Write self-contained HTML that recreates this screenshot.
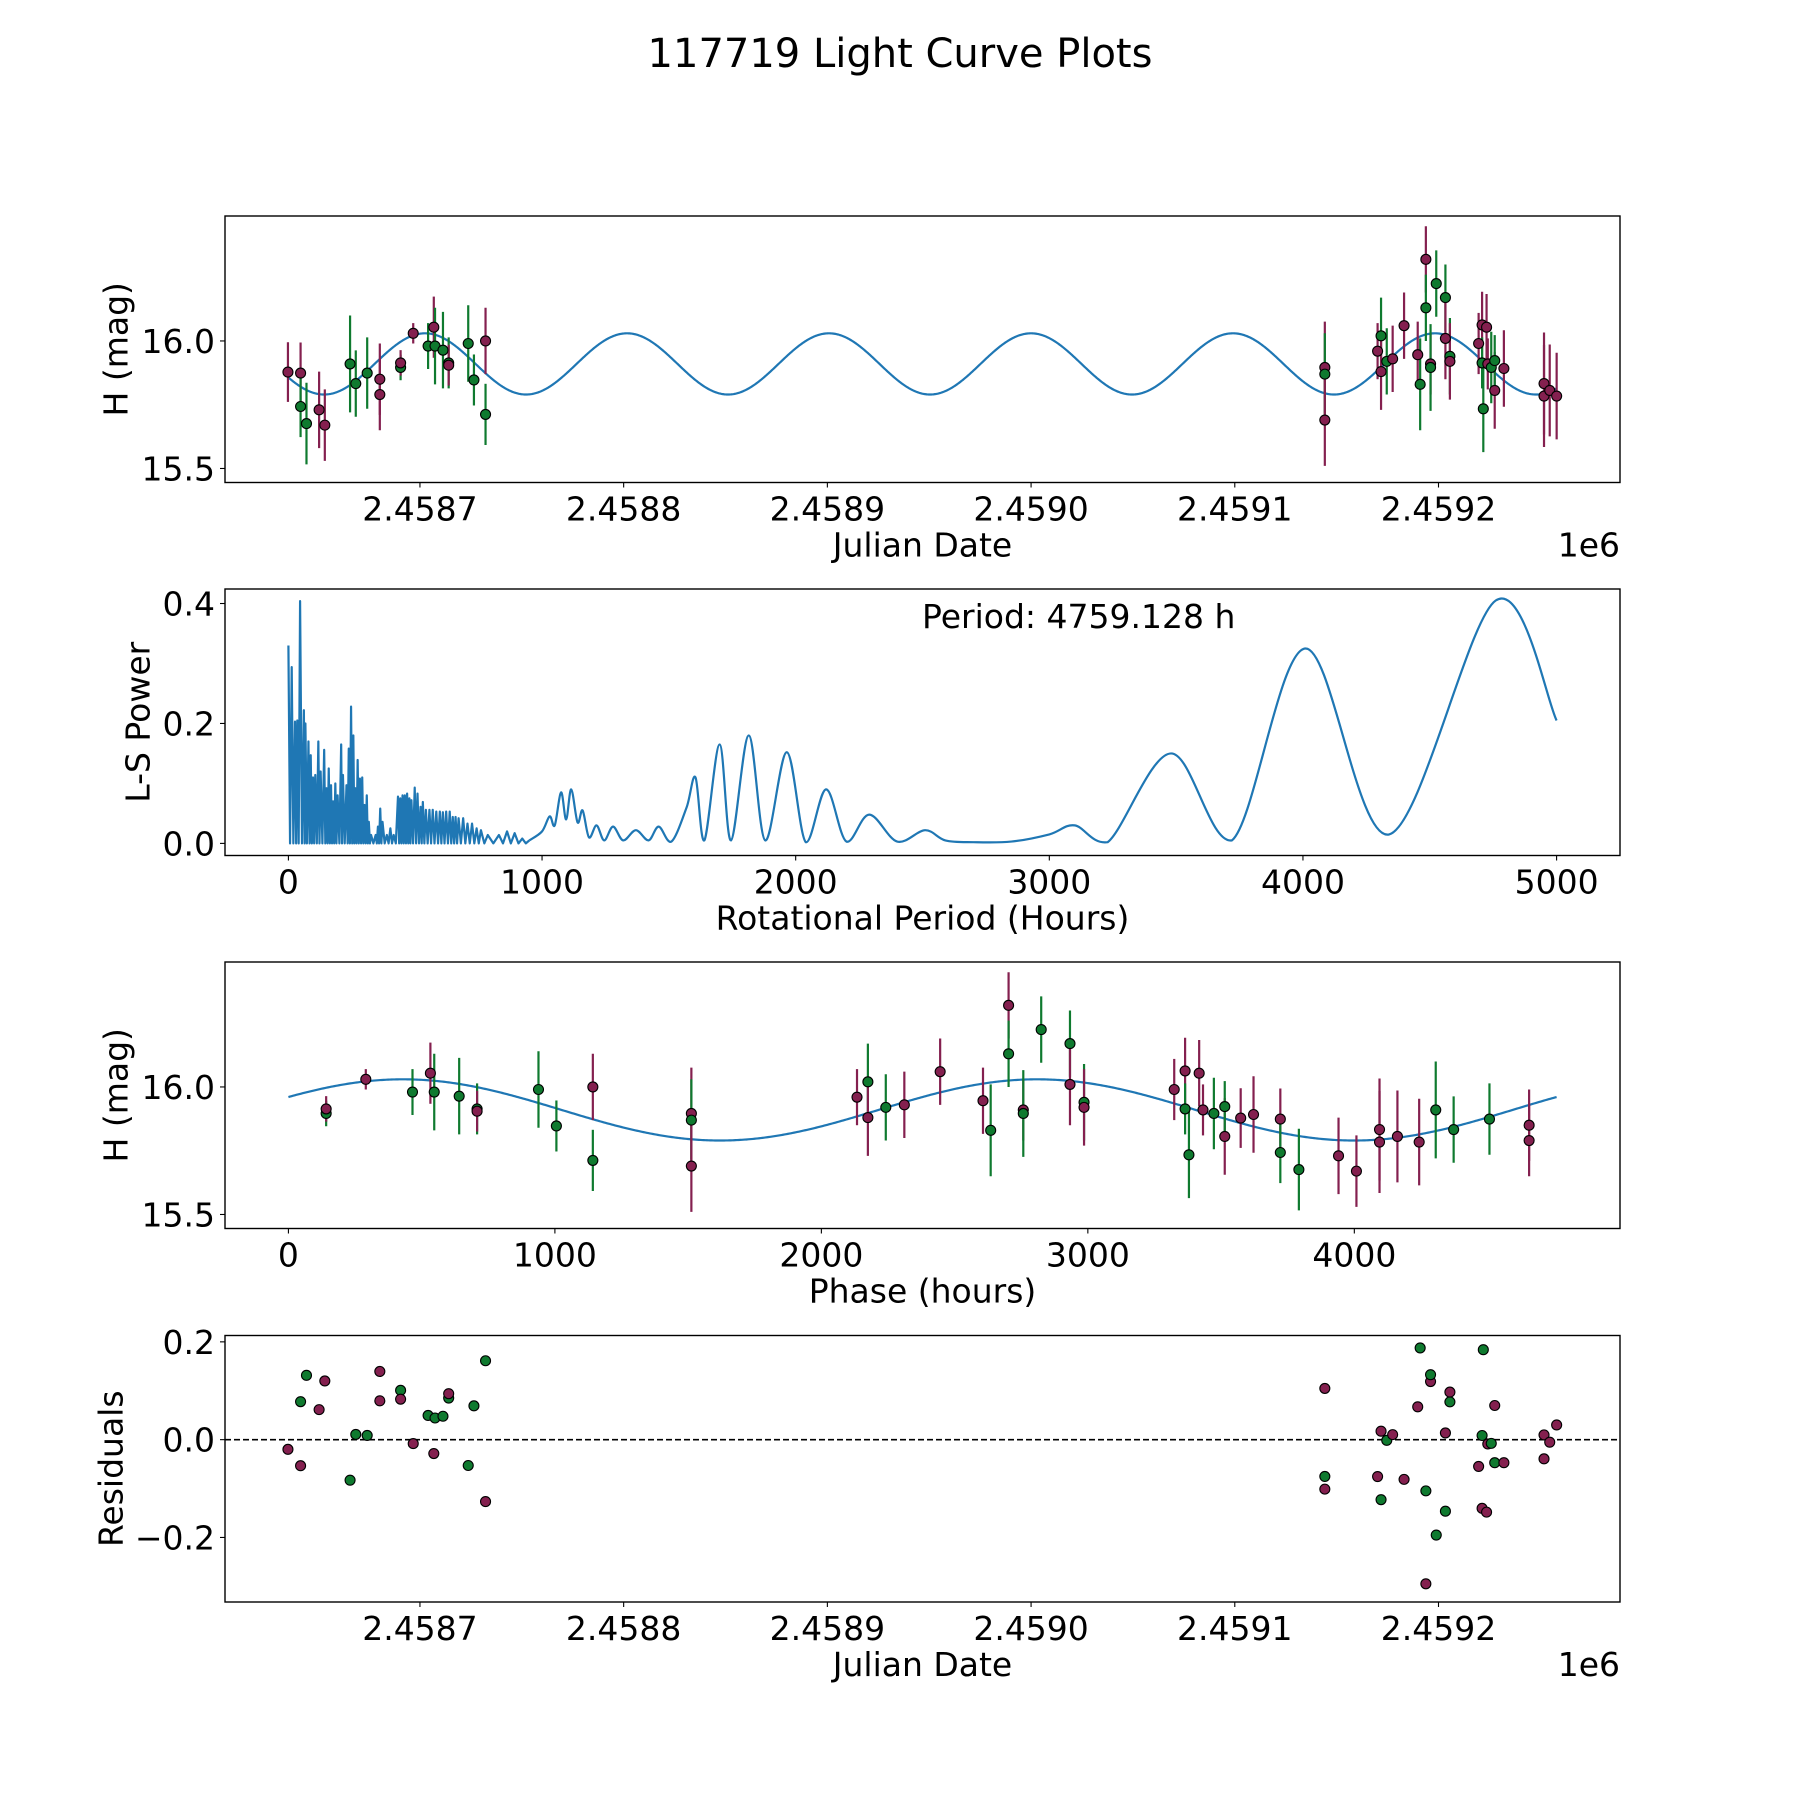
<!DOCTYPE html>
<html><head><meta charset="utf-8"><title>117719 Light Curve Plots</title>
<style>
html,body{margin:0;padding:0;background:#fff;}
svg{display:block;font-family:"DejaVu Sans","Liberation Sans",sans-serif;}
</style></head>
<body>
<svg id="fig" width="1800" height="1800" viewBox="0 0 1800 1800" xmlns="http://www.w3.org/2000/svg">
<rect width="1800" height="1800" fill="#fff"/>
<text x="900" y="67" font-size="40" text-anchor="middle">117719 Light Curve Plots</text>
</svg>
<script>
// ---- data ----
const obsT = [-64.8,-58.6,-58.6,-55.7,-49.5,-46.7,-34.3,-31.5,-25.9,-19.7,-19.7,-9.5,-9.5,-3.3,4.0,6.8,7.4,11.3,14.1,14.1,23.7,26.5,32.2,32.2,
444.2,444.2,444.2,470.1,471.8,471.8,474.6,477.5,483.1,489.8,491.0,493.8,493.8,496.1,496.1,498.9,503.4,503.4,505.6,505.6,519.7,521.4,522.0,521.4,523.6,524.2,525.9,527.6,527.6,532.1,551.8,551.8,554.6,558.0];
const obsMag = [15.878,15.874,15.743,15.676,15.73,15.67,15.91,15.833,15.874,15.85,15.79,15.896,15.914,16.03,15.98,16.054,15.98,15.964,15.914,15.905,15.99,15.847,16.0,15.712,
15.896,15.87,15.69,15.96,16.02,15.88,15.92,15.93,16.06,15.946,15.83,16.32,16.13,15.91,15.896,16.225,16.17,16.01,15.94,15.92,15.99,16.063,15.734,15.914,16.054,15.91,15.896,15.806,15.923,15.892,15.833,15.784,15.806,15.784];
const obsErr = [0.117,0.12,0.12,0.16,0.15,0.14,0.19,0.13,0.14,0.14,0.14,0.05,0.05,0.04,0.09,0.12,0.15,0.15,0.1,0.08,0.15,0.1,0.13,0.12,
0.18,0.16,0.18,0.11,0.15,0.15,0.13,0.13,0.13,0.13,0.18,0.13,0.13,0.12,0.17,0.13,0.13,0.16,0.15,0.15,0.12,0.13,0.17,0.1,0.13,0.1,0.14,0.15,0.1,0.15,0.2,0.2,0.18,0.17];
const obsBand = ['m','m','g','g','m','m','g','g','g','m','m','g','m','m','g','m','g','g','g','m','g','g','m','g',
'm','g','m','m','g','m','g','m','m','m','g','m','g','m','g','g','g','m','g','m','m','m','g','g','m','m','g','m','g','m','m','m','m','m'];
// periodogram: short-period spike peaks
const spikePeriod = [0,13,26,35,46,61,67,79,88,97,106,118,127,141,150,159,168,176,185,194,208,215,229,238,247,256,264,273,282,291,300,309,317,326,344,353,362,371,388,402,415,432,441,450,459,468,477,485,498,509,521,530,542,556,569,583,597,609,622,636,648,659,671,689,706,724,742,759,786,830,862,892,922];
const spikePower = [0.33,0.294,0.203,0.205,0.404,0.222,0.2,0.17,0.147,0.11,0.114,0.17,0.12,0.156,0.092,0.125,0.097,0.07,0.1,0.08,0.165,0.114,0.097,0.158,0.228,0.18,0.092,0.139,0.108,0.11,0.064,0.08,0.036,0.014,0.014,0.028,0.058,0.036,0.014,0.025,0.014,0.078,0.075,0.08,0.08,0.083,0.075,0.072,0.093,0.083,0.061,0.069,0.056,0.056,0.056,0.053,0.053,0.052,0.053,0.053,0.044,0.044,0.042,0.042,0.033,0.033,0.025,0.022,0.014,0.014,0.02,0.017,0.008];
// periodogram: long-period smooth peaks and troughs
const lsPeriod = [950,1000,1030,1050,1075,1095,1115,1140,1160,1185,1215,1245,1280,1320,1370,1420,1460,1510,1570,1605,1640,1700,1745,1815,1880,1965,2040,2120,2200,2290,2400,2510,2590,2700,2850,3000,3100,3230,3480,3720,4010,4340,4760,5000];
const lsPower = [0.005,0.02,0.045,0.03,0.085,0.04,0.09,0.035,0.055,0.01,0.03,0.005,0.028,0.005,0.022,0.005,0.028,0.003,0.06,0.11,0.005,0.165,0.005,0.18,0.005,0.152,0.002,0.09,0.003,0.048,0.003,0.022,0.005,0.002,0.003,0.015,0.03,0.002,0.15,0.005,0.325,0.015,0.405,0.205];
const timeTicks = [0,100,200,300,400,500];
const timeTickLabels = ['2.4587','2.4588','2.4589','2.4590','2.4591','2.4592'];
const magTicks = [15.5,16.0];
const magTickLabels = ['15.5','16.0'];
const lsXTicks = [0,1000,2000,3000,4000,5000];
const lsYTicks = [0.0,0.2,0.4];
const lsYTickLabels = ['0.0','0.2','0.4'];
const phaseTicks = [0,1000,2000,3000,4000];
const resTicks = [-0.2,0.0,0.2];
const resTickLabels = ['\u22120.2','0.0','0.2'];
const periodHours = 4759.128;
const fitMean = 15.91, fitAmp = 0.12, fitPeakPhase = 430, phaseOffsetDays = 15.4;

// ---- layout ----
const NS = 'http://www.w3.org/2000/svg';
const svg = document.getElementById('fig');
const L = 225, R = 1620, H = 266.5, FS = 33;
const tops = [216, 589, 962, 1335.5];
const COL = {m:'#84204f', g:'#0f7a2f'};
const BLUE = '#1f77b4';
function el(tag, attrs, parent){const e=document.createElementNS(NS,tag);for(const k in attrs)e.setAttribute(k,attrs[k]);(parent||svg).appendChild(e);return e;}
function lin(d0,d1,r0,r1){return v=>r0+(v-d0)*(r1-r0)/(d1-d0);}
function phaseOf(t){const P=periodHours/24;let d=((t+phaseOffsetDays)%P+P)%P;return d*24;}
function model(ph){return fitMean+fitAmp*Math.cos(2*Math.PI*(ph-fitPeakPhase)/(periodHours/2));}

function axesBox(name){
  const g=el('g',{});
  
  
  return g;
}
function frame(g,i){
  const r=el('rect',{x:L,y:tops[i],width:R-L,height:H,fill:'none',stroke:'#000','stroke-width':1.4},g);
  
  
}
function xTicks(g,i,vals,labels,sx){
  const yb=tops[i]+H;
  vals.forEach((v,k)=>{
    const x=sx(v);
    const t=el('line',{x1:x,x2:x,y1:yb,y2:yb+5,stroke:'#000','stroke-width':1.1},g);
    
    
    const tx=el('text',{x:x,y:yb+38,'font-size':FS,'text-anchor':'middle'},g);
    tx.textContent=labels[k];
    
    
  });
}
function yTicks(g,i,vals,labels,sy){
  vals.forEach((v,k)=>{
    const y=sy(v);
    const t=el('line',{x1:L-5,x2:L,y1:y,y2:y,stroke:'#000','stroke-width':1.1},g);
    
    
    const tx=el('text',{x:L-10,y:y+12,'font-size':FS,'text-anchor':'end'},g);
    tx.textContent=labels[k];
    
    
  });
}
function xLabel(g,i,text){
  const tx=el('text',{x:(L+R)/2,y:tops[i]+H+74,'font-size':FS,'text-anchor':'middle'},g);
  tx.textContent=text;
  
  
}
function yLabel(g,i,text,x){
  const cy=tops[i]+H/2;
  const tx=el('text',{x:x,y:cy,'font-size':FS,'text-anchor':'middle',transform:`rotate(-90 ${x} ${cy})`,'dominant-baseline':'central'},g);
  tx.textContent=text;
  
  
}
function offsetText(g,i){
  const tx=el('text',{x:R,y:tops[i]+H+74,'font-size':FS,'text-anchor':'end'},g);
  tx.textContent='1e6';
  
  
}
function points(g,xs,ys,errs,sx,sy,withErr){
  if(withErr){
    xs.forEach((xv,k)=>{
      const x=sx(xv);
      const e=el('line',{x1:x,x2:x,y1:sy(ys[k]+errs[k]),y2:sy(ys[k]-errs[k]),stroke:COL[obsBand[k]],'stroke-width':2.2},g);
      
      
    });
  }
  xs.forEach((xv,k)=>{
    const p=el('circle',{cx:sx(xv),cy:sy(ys[k]),r:5,fill:COL[obsBand[k]],stroke:'#000','stroke-width':1.1},g);
    
    
  });
}
function clip(i,id){
  const cp=el('clipPath',{id:id});
  el('rect',{x:L,y:tops[i],width:R-L,height:H},cp);
}

// ---- panel 1 ----
{
  const g=axesBox('light-curve-panel');
  const sx=lin(-95.7,589.1,L,R), sy=lin(15.445,16.49,tops[0]+H,tops[0]);
  clip(0,'c0');
  const t0=Math.min(...obsT), t1=Math.max(...obsT);
  let d='';
  for(let k=0;k<=1400;k++){const t=t0+(t1-t0)*k/1400;d+=(k?'L':'M')+sx(t).toFixed(2)+' '+sy(model(phaseOf(t))).toFixed(2);}
  const fl=el('path',{d:d,fill:'none',stroke:BLUE,'stroke-width':2.2,'clip-path':'url(#c0)'},g);
  
  
  points(g,obsT,obsMag,obsErr,sx,sy,true);
  frame(g,0);
  xTicks(g,0,timeTicks,timeTickLabels,sx);
  yTicks(g,0,magTicks,magTickLabels,sy);
  xLabel(g,0,'Julian Date'); offsetText(g,0);
  yLabel(g,0,'H (mag)',116);
}
// ---- panel 2 ----
{
  const g=axesBox('periodogram-panel');
  const sx=lin(-250,5250,L,R), sy=lin(-0.0202,0.4242,tops[1]+H,tops[1]);
  let d='';
  spikePeriod.forEach((p,k)=>{
    d+=(k?'L':'M')+sx(p).toFixed(2)+' '+sy(spikePower[k]).toFixed(2);
    const nxt = k<spikePeriod.length-1 ? spikePeriod[k+1] : lsPeriod[0];
    d+='L'+sx((p+nxt)/2).toFixed(2)+' '+sy(0).toFixed(2);
  });
  d+='L'+sx(lsPeriod[0]).toFixed(2)+' '+sy(lsPower[0]).toFixed(2);
  const sp=el('path',{d:d,fill:'none',stroke:BLUE,'stroke-width':2.2,'stroke-linejoin':'round'},g);
  
  
  const P=lsPeriod.map((p,k)=>[sx(p),sy(lsPower[k])]);
  const base=sy(0)+1;
  let s='M'+P[0][0].toFixed(2)+' '+P[0][1].toFixed(2);
  for(let k=0;k<P.length-1;k++){
    const p0=P[Math.max(k-1,0)],p1=P[k],p2=P[k+1],p3=P[Math.min(k+2,P.length-1)];
    const c1y=Math.min(p1[1]+(p2[1]-p0[1])/6,base), c2y=Math.min(p2[1]-(p3[1]-p1[1])/6,base);
    s+=`C${(p1[0]+(p2[0]-p0[0])/6).toFixed(2)} ${c1y.toFixed(2)} ${(p2[0]-(p3[0]-p1[0])/6).toFixed(2)} ${c2y.toFixed(2)} ${p2[0].toFixed(2)} ${p2[1].toFixed(2)}`;
  }
  const ln=el('path',{d:s,fill:'none',stroke:BLUE,'stroke-width':2.2,'stroke-linejoin':'round'},g);
  
  
  frame(g,1);
  xTicks(g,1,lsXTicks,lsXTicks.map(String),sx);
  yTicks(g,1,lsYTicks,lsYTickLabels,sy);
  xLabel(g,1,'Rotational Period (Hours)');
  yLabel(g,1,'L-S Power',138);
  const pt=el('text',{x:922,y:628,'font-size':FS},g);
  pt.textContent='Period: '+periodHours.toFixed(3)+' h';
  
  
}
// ---- panel 3 ----
{
  const g=axesBox('phase-panel');
  const sx=lin(-238,4997,L,R), sy=lin(15.445,16.49,tops[2]+H,tops[2]);
  let d='';
  for(let k=0;k<=800;k++){const ph=periodHours*k/800;d+=(k?'L':'M')+sx(ph).toFixed(2)+' '+sy(model(ph)).toFixed(2);}
  const fl=el('path',{d:d,fill:'none',stroke:BLUE,'stroke-width':2.2},g);
  
  
  points(g,obsT.map(phaseOf),obsMag,obsErr,sx,sy,true);
  frame(g,2);
  xTicks(g,2,phaseTicks,phaseTicks.map(String),sx);
  yTicks(g,2,magTicks,magTickLabels,sy);
  xLabel(g,2,'Phase (hours)');
  yLabel(g,2,'H (mag)',116);
}
// ---- panel 4 ----
{
  const g=axesBox('residuals-panel');
  const sx=lin(-95.7,589.1,L,R), sy=lin(-0.332,0.213,tops[3]+H,tops[3]);
  const z=el('line',{x1:L,x2:R,y1:sy(0),y2:sy(0),stroke:'#000','stroke-width':1.6,'stroke-dasharray':'6 3'},g);
  
  
  const res=obsT.map((t,k)=>model(phaseOf(t))-obsMag[k]);
  points(g,obsT,res,null,sx,sy,false);
  frame(g,3);
  xTicks(g,3,timeTicks,timeTickLabels,sx);
  yTicks(g,3,resTicks,resTickLabels,sy);
  xLabel(g,3,'Julian Date'); offsetText(g,3);
  yLabel(g,3,'Residuals',111);
}
</script>
</body></html>
